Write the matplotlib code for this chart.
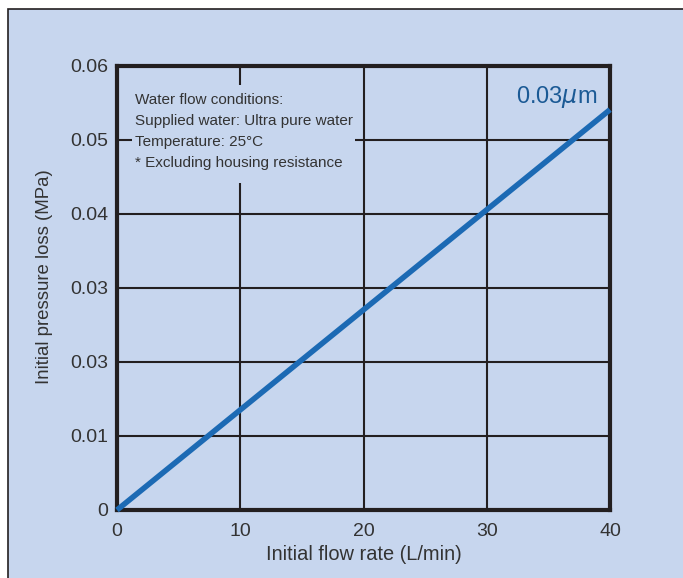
import matplotlib
matplotlib.use("Agg")
import matplotlib.pyplot as plt
from matplotlib.patches import Rectangle

plt.rcParams['font.family'] = ['Liberation Sans', 'DejaVu Sans']

flow = [0, 40]
pressure = [0, 0.0541]
x_ticks = [0, 10, 20, 30, 40]
y_ticks = [0, 0.01, 0.02, 0.03, 0.04, 0.05, 0.06]
y_tick_labels = ["0", "0.01", "0.03", "0.03", "0.04", "0.05", "0.06"]
series_label = "0.03$\\mu$m"
note_lines = ["Water flow conditions:", "Supplied water: Ultra pure water",
              "Temperature: 25°C", "* Excluding housing resistance"]

bg = "#c7d6ee"
dark = "#231f20"
txt = "#333333"

fig = plt.figure(figsize=(6.83, 5.78), dpi=100)
fig.patch.set_facecolor("white")
fig.patches.append(Rectangle((8/683, -0.1), 1.2, 1.1 - 9/578, transform=fig.transFigure,
                             facecolor=bg, edgecolor=dark, linewidth=1.2, zorder=-10))

ax = fig.add_axes([117/683, 1 - 510/578, (610-117)/683, (510-66)/578])
ax.set_zorder(5)
ax.set_facecolor(bg)
ax.set_xlim(0, 40)
ax.set_ylim(0, 0.06)
ax.set_xticks(x_ticks)
ax.set_yticks(y_ticks)
ax.set_yticklabels(y_tick_labels)
ax.grid(True, color=dark, linewidth=1.5, zorder=1)
ax.tick_params(length=0, labelsize=14, colors=txt)
ax.tick_params(axis="y", pad=6.5)
ax.tick_params(axis="x", pad=9)
for s in ax.spines.values():
    s.set_linewidth(3)
    s.set_color(dark)

ax.plot(flow, pressure, color="#1c6ab4", linewidth=4, solid_capstyle="butt", zorder=4, clip_on=False)
ax.text(0.974, 0.9167, series_label, transform=ax.transAxes, ha="right", va="baseline",
        fontsize=17, color="#1b5a95", zorder=5)

ax.add_patch(Rectangle((0.030, 0.736), 0.453, 0.221, transform=ax.transAxes,
                       facecolor=bg, edgecolor="none", zorder=2))
ax.text(0.0365, 0.939, "\n".join(note_lines), transform=ax.transAxes,
        ha="left", va="top", fontsize=11, color=txt, linespacing=1.62, zorder=3)

ax.set_xlabel("Initial flow rate (L/min)", fontsize=14.4, color=txt, labelpad=4)
ax.set_ylabel("Initial pressure loss (MPa)", fontsize=13.4, color=txt, labelpad=10)
ax.yaxis.set_label_coords(-0.13, 0.525)

fig.savefig("out.png", dpi=100, facecolor=fig.get_facecolor())
